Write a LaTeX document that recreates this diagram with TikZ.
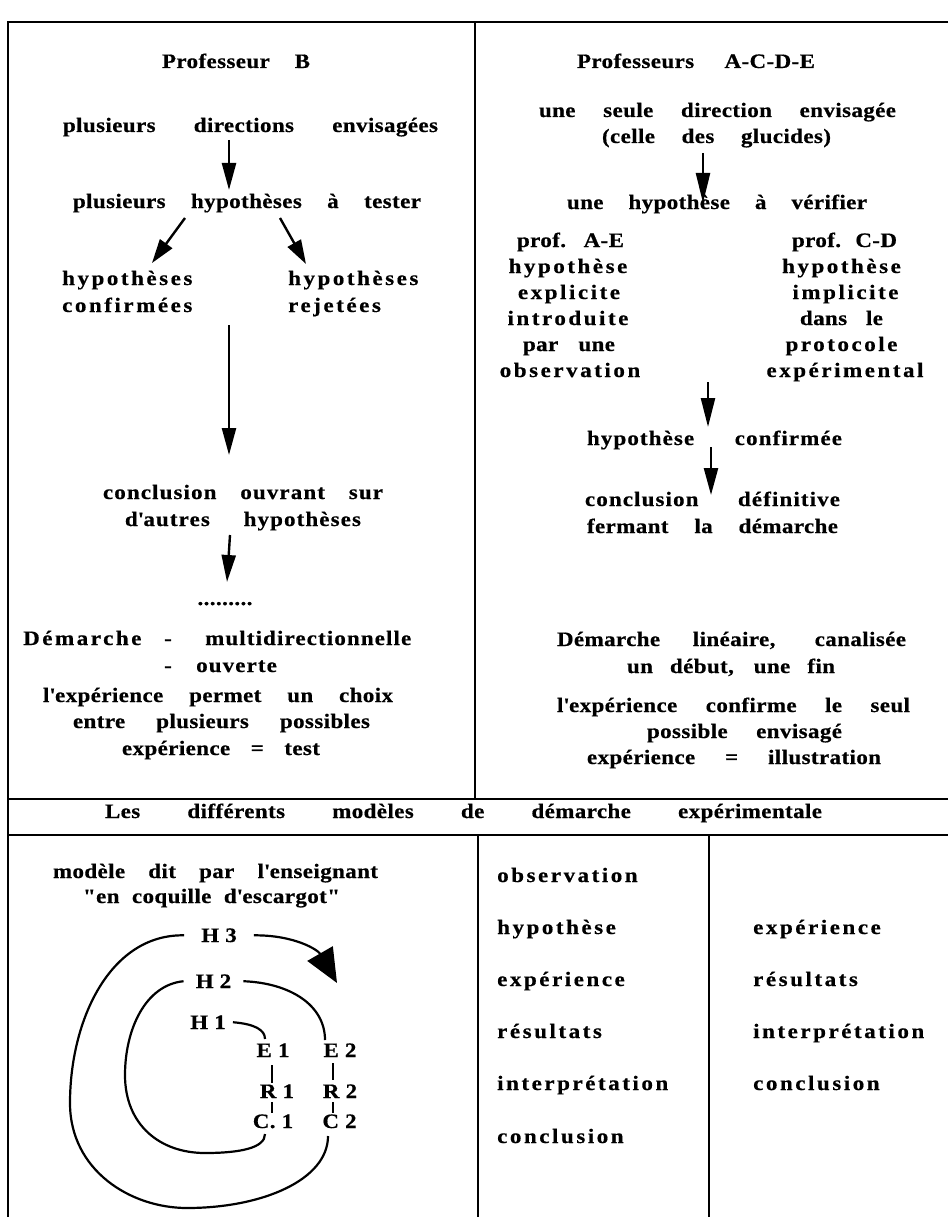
\documentclass[tikz,border=0pt]{standalone}
\usepackage{fontspec}
\setmainfont{Liberation Serif}
\newfontfamily\tra{Liberation Serif}[LetterSpace=2,FakeStretch=1.12,FakeBold=0.6]
\newfontfamily\trb{Liberation Serif}[LetterSpace=5.5,FakeStretch=1.12,FakeBold=0.6]
\newfontfamily\trc{Liberation Serif}[LetterSpace=12.5,FakeStretch=1.12,FakeBold=0.6]
\usetikzlibrary{arrows.meta}
\newcommand\fitw[2]{\makebox[#1pt][s]{#2}}
\begin{document}
\begin{tikzpicture}[x=1pt,y=-1pt,
  tx/.style={anchor=base,inner sep=0pt,font=\tra\bfseries\fontsize{20.5}{25}\selectfont},
  tm/.style={anchor=base,inner sep=0pt,font=\trb\bfseries\fontsize{20.5}{25}\selectfont},
  ts/.style={anchor=base,inner sep=0pt,font=\trc\bfseries\fontsize{20.5}{25}\selectfont},
  frame/.style={line width=2.6pt},
  arr/.style={line width=2.4pt,-{Triangle[length=27pt,width=14pt]}},
  crv/.style={line width=2.2pt},
  tickline/.style={line width=2pt}]
\fill[white] (0,0) rectangle (948,1217);
\useasboundingbox (0,0) rectangle (948,1217);
% frame
\draw[frame] (948,22) -- (8,22) -- (8,1217);
\draw[frame] (475,22) -- (475,799);
\draw[frame] (8,799) -- (948,799);
\draw[frame] (8,835) -- (948,835);
\draw[frame] (478,835) -- (478,1217);
\draw[frame] (709,835) -- (709,1217);
% ---------- top left
\node[tx] (pB) at (236,68) {\fitw{148}{Professeur B}};
\node[tx] (l1) at (250.5,132) {\fitw{375}{plusieurs directions envisagées}};
\node[tx] (l2) at (247,208) {\fitw{348}{plusieurs hypothèses à tester}};
\node[ts,anchor=base west] (l3a) at (62,285) {hypothèses};
\node[ts,anchor=base west] (l3b) at (62,312) {confirmées};
\node[ts,anchor=base west] (l4a) at (288,285) {hypothèses};
\node[ts,anchor=base west] (l4b) at (288,312) {rejetées};
\node[tm] (l5) at (243,499) {\fitw{280}{conclusion ouvrant sur}};
\node[tm] (l6) at (243,526) {\fitw{236}{d\textquotesingle autres hypothèses}};
\node[tx] (dots) at (225,605) {.........};
\node[ts,anchor=base west] (dm) at (23,645) {Démarche};
\node[tx] (dash1) at (168,645) {-};
\node[tm,anchor=base west] (multi) at (205,645) {multidirectionnelle};
\node[tx] (dash2) at (168,672) {-};
\node[tm,anchor=base west] (ouv) at (196,672) {ouverte};
\node[tx] (l7) at (218,702) {\fitw{350}{l\textquotesingle expérience permet un choix}};
\node[tx] (l8) at (221.5,728) {\fitw{297}{entre plusieurs possibles}};
\node[tx] (l9) at (221,755) {\fitw{198}{expérience = test}};
\coordinate (a1s) at (229,140); \coordinate (a1e) at (229,190);
\coordinate (a2s) at (185,218); \coordinate (a2e) at (152,263);
\coordinate (a3s) at (280,218); \coordinate (a3e) at (306,264);
\coordinate (a4s) at (229,325); \coordinate (a4e) at (229,455);
\coordinate (a5s) at (230,535); \coordinate (a5e) at (227,582);
\draw[arr] (a1s) -- (a1e);
\draw[arr,-{Triangle[length=24pt,width=15pt]}] (a2s) -- (a2e);
\draw[arr,-{Triangle[length=24pt,width=15pt]}] (a3s) -- (a3e);
\draw[arr] (a4s) -- (a4e);
\draw[arr] (a5s) -- (a5e);
% ---------- top right
\node[tx] (pA) at (696,68) {\fitw{238}{Professeurs A-C-D-E}};
\node[tx] (r1) at (717.5,117) {\fitw{357}{une seule direction envisagée}};
\node[tx] (r2) at (716.5,143) {\fitw{229}{(celle des glucides)}};
\node[tx] (r3) at (717,209) {\fitw{300}{une hypothèse à vérifier}};
\node[tx] (ra1) at (570.5,247) {\fitw{107}{prof. A-E}};
\node[ts] (ra2) at (568,273) {hypothèse};
\node[ts] (ra3) at (569,299) {explicite};
\node[ts] (ra4) at (568,325) {introduite};
\node[tx] (ra5) at (569,351) {\fitw{92}{par une}};
\node[ts] (ra6) at (570,377) {observation};
\node[tx] (rb1) at (844.5,247) {\fitw{105}{prof. C-D}};
\node[ts] (rb2) at (841.5,273) {hypothèse};
\node[ts] (rb3) at (845.5,299) {implicite};
\node[tx] (rb4) at (841.5,325) {\fitw{83}{dans le}};
\node[ts] (rb5) at (841.5,351) {protocole};
\node[ts] (rb6) at (845,377) {expérimental};
\node[tm] (r4) at (714.5,445) {\fitw{255}{hypothèse confirmée}};
\node[tm] (r5) at (712.5,506) {\fitw{255}{conclusion définitive}};
\node[tx] (r6) at (712.5,533) {\fitw{251}{fermant la démarche}};
\node[tx] (r7) at (731.5,646) {\fitw{349}{Démarche linéaire, canalisée}};
\node[tx] (r8) at (731,673) {\fitw{208}{un début, une fin}};
\node[tx] (r9) at (733.5,712) {\fitw{353}{l\textquotesingle expérience confirme le seul}};
\node[tx] (r10) at (744.5,738) {\fitw{195}{possible envisagé}};
\node[tx] (r11) at (734,764) {\fitw{294}{expérience = illustration}};
\coordinate (b1s) at (703,153); \coordinate (b1e) at (703,203);
\coordinate (b2s) at (708,382); \coordinate (b2e) at (708,427);
\coordinate (b3s) at (711,447); \coordinate (b3e) at (711,495);
\draw[arr,-{Triangle[length=30pt,width=14pt]}] (b1s) -- (b1e);
\draw[arr,-{Triangle[length=29pt,width=14pt]}] (b2s) -- (b2e);
\draw[arr] (b3s) -- (b3e);
% ---------- bottom
\node[tx] (title) at (463.5,818) {\fitw{717}{Les différents modèles de démarche expérimentale}};
\node[tx] (m1) at (215.5,878) {\fitw{325}{modèle dit par l\textquotesingle enseignant}};
\node[tx] (m2) at (211.5,903) {\fitw{257}{"en coquille d\textquotesingle escargot"}};
\node[tx,inner xsep=17pt] (H3) at (219,942) {H 3};
\node[tx,inner xsep=12pt] (H2) at (213.5,988) {H 2};
\node[tx,inner xsep=7pt] (H1) at (208,1029) {H 1};
\node[tx] (E1) at (273,1057) {E 1};
\node[tx] (R1) at (277,1098) {R 1};
\node[tx] (C1) at (273,1128) {C. 1};
\node[tx] (E2) at (340,1057) {E 2};
\node[tx] (R2) at (340,1098) {R 2};
\node[tx] (C2) at (339.5,1128) {C 2};
\coordinate (c2b) at (328,1136);
\coordinate (c1b) at (265,1134);
\coordinate (e2t) at (325,1040);
\coordinate (e1t) at (265,1039);
\coordinate (h3tip) at (337,983);
\draw[crv] (H3.west) .. controls (110,934) and (70,1020) .. (70,1103)
  .. controls (70,1170) and (130,1208) .. (187,1208)
  .. controls (262,1208) and (328,1180) .. (c2b);
\draw[crv,-{Triangle[length=34pt,width=29pt]}] (H3.east) .. controls (295,935) and (318,950) .. (h3tip);
\draw[crv] (H2.west) .. controls (145,985) and (125,1030) .. (125,1075)
  .. controls (125,1125) and (160,1153) .. (205,1153)
  .. controls (240,1153) and (265,1148) .. (c1b);
\draw[crv] (H2.east) .. controls (290,983) and (325,1005) .. (e2t);
\draw[crv] (H1.east) .. controls (255,1024) and (265,1030) .. (e1t);
\coordinate (t1a) at (272,1065); \coordinate (t1b) at (272,1083);
\coordinate (t1c) at (272,1102); \coordinate (t1d) at (272,1113);
\coordinate (t2a) at (333,1063); \coordinate (t2b) at (333,1080);
\coordinate (t2c) at (333,1102); \coordinate (t2d) at (333,1113);
\draw[tickline] (t1a) -- (t1b);
\draw[tickline] (t1c) -- (t1d);
\draw[tickline] (t2a) -- (t2b);
\draw[tickline] (t2c) -- (t2d);
\node[ts,anchor=base west] (c1) at (497,882) {observation};
\node[ts,anchor=base west] (c2) at (497,934) {hypothèse};
\node[ts,anchor=base west] (c3) at (497,986) {expérience};
\node[ts,anchor=base west] (c4) at (497,1038) {résultats};
\node[ts,anchor=base west] (c5) at (497,1090) {interprétation};
\node[ts,anchor=base west] (c6) at (497,1143) {conclusion};
\node[ts,anchor=base west] (d1) at (753,934) {expérience};
\node[ts,anchor=base west] (d2) at (753,986) {résultats};
\node[ts,anchor=base west] (d3) at (753,1038) {interprétation};
\node[ts,anchor=base west] (d4) at (753,1090) {conclusion};
\end{tikzpicture}
\end{document}
